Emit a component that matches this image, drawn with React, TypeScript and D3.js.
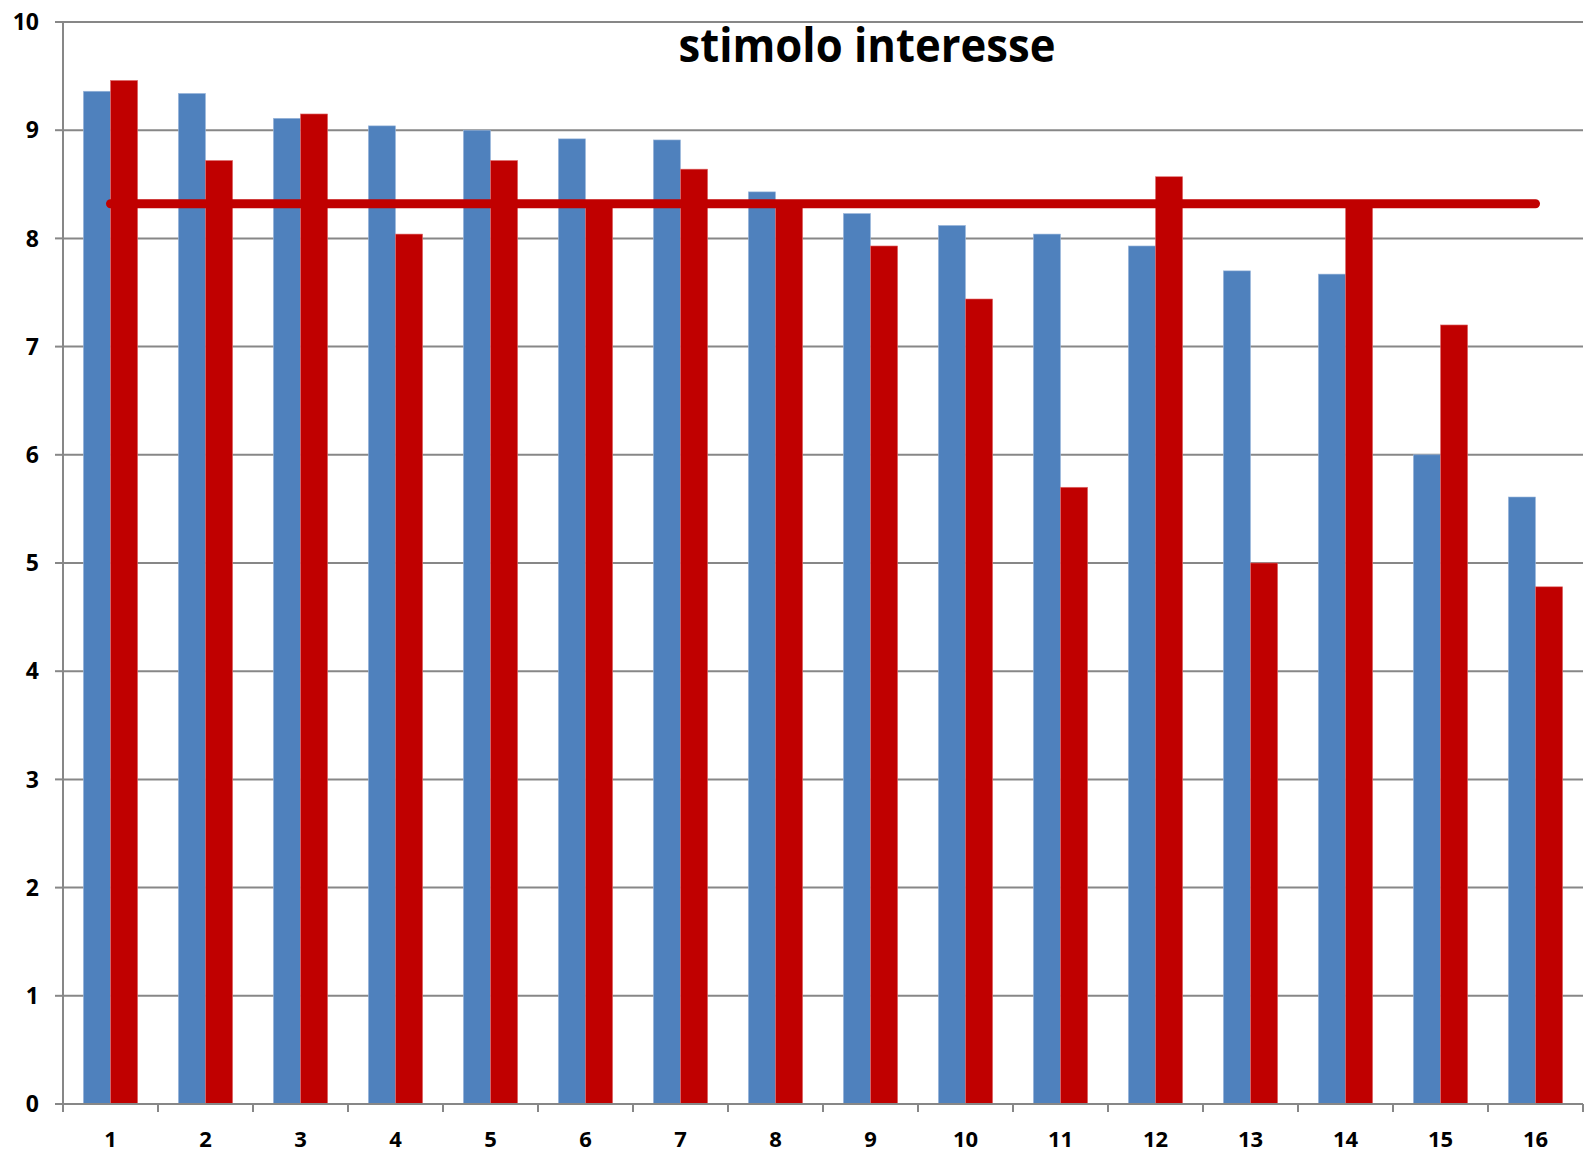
import React from "react";
import * as d3 from "d3";

const categories = ["1","2","3","4","5","6","7","8","9","10","11","12","13","14","15","16"];
const blueValues = [9.36,9.34,9.11,9.04,9.0,8.92,8.91,8.43,8.23,8.12,8.04,7.93,7.7,7.67,6.0,5.61];
const redValues = [9.46,8.72,9.15,8.04,8.72,8.34,8.64,8.34,7.93,7.44,5.7,8.57,5.0,8.33,7.2,4.78];
const averageValue = 8.32;
const yTicks = [0,1,2,3,4,5,6,7,8,9,10];
const title = "stimolo interesse";

const W = 1594, H = 1159;
const left = 63, right = 1583, top = 22, bottom = 1104;
const BLUE = "#4F81BD", RED = "#C00000", GRID = "#878787";

export default function App() {
  const x = d3.scaleBand<string>().domain(categories).range([left, right]).paddingInner(0).paddingOuter(0);
  const y = d3.scaleLinear().domain([0, 10]).range([bottom, top]);
  const bw = x.bandwidth();
  const barW = bw / 3.5;
  const gap = bw - 2 * barW;
  const lineGen = d3.line<number>().x((_, i) => (x(categories[i]) as number) + bw / 2).y((d) => y(d));
  const lineData = categories.map(() => averageValue);
  const font = "'Open Sans', 'DejaVu Sans', sans-serif";
  return (
    <svg width={W} height={H} style={{ position: "absolute", left: 0, top: 0, background: "#fff" }}>
      {yTicks.map((t) => (
        <g key={t}>
          {t > 0 && <line x1={left} x2={right} y1={y(t)} y2={y(t)} stroke={GRID} strokeWidth={2} />}
          <line x1={55} x2={left} y1={y(t)} y2={y(t)} stroke={GRID} strokeWidth={2} />
          <text x={39} y={y(t)} dy="0.36em" textAnchor="end" fontFamily={font} fontWeight="bold" fontSize={23} fill="#000">{t}</text>
        </g>
      ))}
      {categories.map((c, i) => {
        const x0 = x(c) as number;
        return (
          <g key={c}>
            <rect x={x0 + gap / 2} y={y(blueValues[i])} width={barW} height={bottom - y(blueValues[i])} fill={BLUE} stroke="#9fb9dc" strokeWidth={0.6} />
            <rect x={x0 + gap / 2 + barW} y={y(redValues[i])} width={barW} height={bottom - y(redValues[i])} fill={RED} stroke="#e07070" strokeWidth={0.6} />
            <text x={x0 + bw / 2} y={1147} textAnchor="middle" fontFamily={font} fontWeight="bold" fontSize={22} fill="#000">{c}</text>
          </g>
        );
      })}
      <path d={lineGen(lineData) || ""} fill="none" stroke={RED} strokeWidth={9} strokeLinecap="round" />
      <line x1={left} x2={left} y1={top} y2={bottom} stroke={GRID} strokeWidth={2} />
      <line x1={left} x2={right} y1={bottom} y2={bottom} stroke={GRID} strokeWidth={2} />
      {d3.range(categories.length + 1).map((i) => {
        const xx = left + i * bw;
        return <line key={i} x1={xx} x2={xx} y1={bottom} y2={1112} stroke={GRID} strokeWidth={2} />;
      })}
      <text x={867} y={62} textAnchor="middle" fontFamily={font} fontWeight="bold" fontSize={46} textLength={377} lengthAdjust="spacingAndGlyphs" fill="#000">{title}</text>
    </svg>
  );
}
